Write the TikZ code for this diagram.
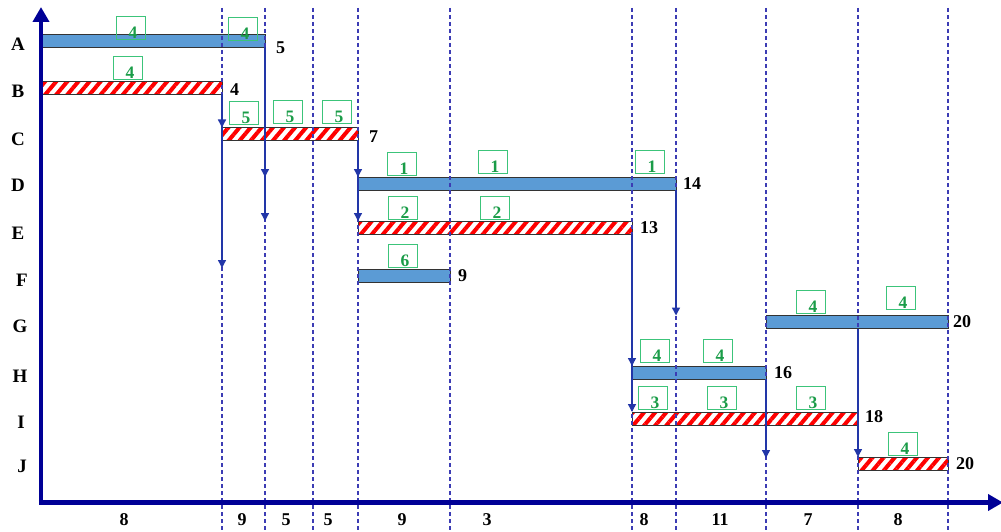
\documentclass[tikz,border=0pt]{standalone}
\usepackage{fontspec}
\setmainfont{Liberation Serif}[BoldFont={Liberation Serif Bold}]
\usetikzlibrary{arrows.meta}
\usetikzlibrary{patterns.meta}
\usetikzlibrary{positioning}
\usepackage{xcolor}
\definecolor{barblue}{HTML}{5B9BD5}
\definecolor{axisblue}{HTML}{000096}
\definecolor{gridblue}{HTML}{3C3CB4}
\definecolor{flowblue}{HTML}{2236A8}
\definecolor{boxgreen}{HTML}{3CC47A}
\definecolor{numgreen}{HTML}{1A9C48}
\tikzset{
  bar/.style={draw=black!80, line width=0.9pt, anchor=west, minimum height=13pt, inner sep=0pt, outer sep=0pt},
  bluebar/.style={bar, fill=barblue},
  hatchbar/.style={bar, preaction={fill=white}, pattern={Lines[angle=50,distance=8.5pt,line width=4pt]}, pattern color=red},
  rowlbl/.style={font=\bfseries\fontsize{19}{19}\selectfont, inner sep=0pt},
  numlbl/.style={font=\bfseries\fontsize{18}{18}\selectfont, inner sep=0pt, anchor=west},
  seglbl/.style={font=\bfseries\fontsize{18}{18}\selectfont, inner sep=0pt},
  gnum/.style={text=numgreen, font=\bfseries\fontsize{17.5}{17.5}\selectfont, inner sep=0pt, xshift=2pt, yshift=-4.5pt},
  gbox/.style={draw=boxgreen, line width=1.1pt, minimum width=29pt, minimum height=23pt, inner sep=0pt, label={[gnum]center:#1}},
  grid/.style={gridblue, line width=1.1pt, dash pattern=on 4pt off 3pt},
  flow/.style={flowblue, line width=1.4pt, -{Triangle[width=8pt,length=8pt]}},
  axis/.style={axisblue, line width=4.5pt, -{Triangle[width=16pt,length=15pt]}}
}
\begin{document}
\begin{tikzpicture}[x=1pt,y=-1pt]
\useasboundingbox (0,0) rectangle (1001,532);
% activities
\foreach \r/\x/\y in {A/18/44,B/18/91,C/18/139,D/18/185,E/18/233,F/22/280,G/20/326,H/20/376,I/21/422,J/22/466}
  \node[rowlbl] (row\r) at (\x,\y) {\r};

% bars
\node[bluebar, minimum width=224pt] (barA) at (41,40.5) {};
\node[hatchbar, minimum width=181pt] (barB) at (41,88) {};
\node[hatchbar, minimum width=136pt] (barC) at (222,134) {};
\node[bluebar, minimum width=318pt] (barD) at (358,183.5) {};
\node[hatchbar, minimum width=274pt] (barE) at (358,227.5) {};
\node[bluebar, minimum width=92pt] (barF) at (358,275.5) {};
\node[bluebar, minimum width=182pt] (barG) at (766,322) {};
\node[bluebar, minimum width=134pt] (barH) at (632,372.5) {};
\node[hatchbar, minimum width=226pt] (barI) at (632,418.5) {};
\node[hatchbar, minimum width=90pt] (barJ) at (858,463.5) {};

% finish times
\node[numlbl, right=11pt of barA.east, yshift=-7pt] (endA) {5};
\node[numlbl, right=8pt of barB.east, yshift=-2pt] (endB) {4};
\node[numlbl, right=11pt of barC.east, yshift=-3pt] (endC) {7};
\node[numlbl, right=7pt of barD.east] (endD) {14};
\node[numlbl, right=8pt of barE.east] (endE) {13};
\node[numlbl, right=8pt of barF.east] (endF) {9};
\node[numlbl, right=5pt of barG.east] (endG) {20};
\node[numlbl, right=8pt of barH.east] (endH) {16};
\node[numlbl, right=7pt of barI.east, yshift=2pt] (endI) {18};
\node[numlbl, right=8pt of barJ.east] (endJ) {20};

% resources
\node[gbox=4] (cA1) at (131,28) {};
\node[gbox=4] (cA2) at (243,29) {};
\node[gbox=4] (cB1) at (128,68) {};
\node[gbox=5] (cC1) at (244,113) {};
\node[gbox=5] (cC2) at (288,112) {};
\node[gbox=5] (cC3) at (337,112) {};
\node[gbox=1] (cD1) at (402,164) {};
\node[gbox=1] (cD2) at (493,162) {};
\node[gbox=1] (cD3) at (650,162) {};
\node[gbox=2] (cE1) at (403,208) {};
\node[gbox=2] (cE2) at (495,208) {};
\node[gbox=6] (cF1) at (403,256) {};
\node[gbox=4] (cG1) at (811,302) {};
\node[gbox=4] (cG2) at (901,298) {};
\node[gbox=4] (cH1) at (655,351) {};
\node[gbox=4] (cH2) at (718,351) {};
\node[gbox=3] (cI1) at (653,398) {};
\node[gbox=3] (cI2) at (722,398) {};
\node[gbox=3] (cI3) at (811,398) {};
\node[gbox=4] (cJ1) at (903,444) {};

% time grid
\foreach \x [count=\i] in {222,265,313,358,450,632,676,766,858,948}{
  \coordinate (g\i) at (\x,0);
  \draw[grid] (\x,8) -- (\x,532);
}

% axes
\coordinate (origin) at (41,502.5);
\coordinate (ytop) at (41,7);
\coordinate (xend) at (1003,502.5);
\draw[axis] ([yshift=-2.2pt]origin) -- (ytop);
\draw[axis] ([xshift=-2.2pt]origin) -- (xend);

% interval lengths
\foreach \x/\t in {124/8,242/9,286/5,328/5,402/9,487/3,644/8,720/11,808/7,898/8}
  \node[seglbl] (seg\x) at (\x,520) {\t};

% links
\coordinate (dropB) at (222,268);
\coordinate (dropH) at (766,458);
\draw[flow] (g1 |- barB.south) -- (g1 |- barC.north);
\draw[flow] (g1 |- barB.south) -- (dropB);
\draw[flow] (g2 |- barA.south) -- (g2 |- barD.north);
\draw[flow] (g2 |- barA.south) -- (g2 |- barE.north);
\draw[flow] (g4 |- barC.south) -- (g4 |- barD.north);
\draw[flow] (g4 |- barC.south) -- (g4 |- barE.north);
\draw[flow] (g6 |- barE.south) -- (g6 |- barH.north);
\draw[flow] (g6 |- barE.south) -- (g6 |- barI.north);
\draw[flow] (g7 |- barD.south) -- (g7 |- barG.north);
\draw[flow] (g8 |- barH.south) -- (dropH);
\draw[flow] (g9 |- barG.south) -- (g9 |- barJ.north);
\end{tikzpicture}
\end{document}
